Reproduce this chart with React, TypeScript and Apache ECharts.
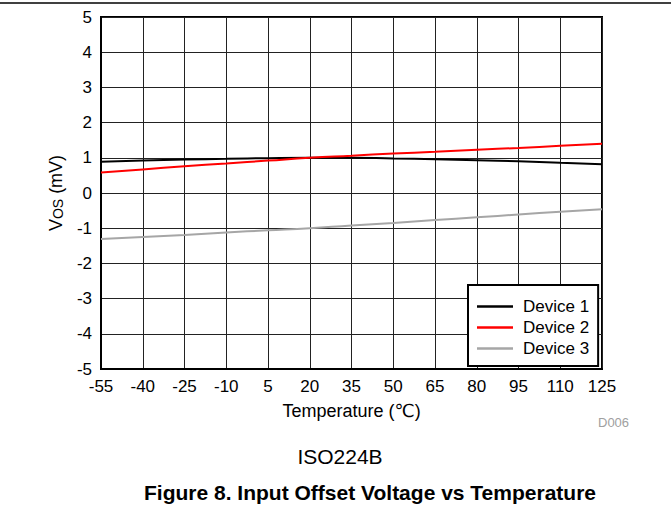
import React, { useEffect, useRef } from "react";
import * as echarts from "echarts";

const temps = [-55, -40, -25, -10, 5, 20, 35, 50, 65, 80, 95, 110, 125];
const device1 = [0.89, 0.92, 0.95, 0.97, 0.99, 1.0, 1.0, 0.98, 0.96, 0.93, 0.9, 0.86, 0.82];
const device2 = [0.58, 0.67, 0.76, 0.84, 0.92, 1.0, 1.06, 1.12, 1.17, 1.23, 1.28, 1.34, 1.4];
const device3 = [-1.31, -1.25, -1.19, -1.12, -1.06, -1.0, -0.92, -0.85, -0.77, -0.69, -0.61, -0.53, -0.46];
const seriesNames = ["Device 1", "Device 2", "Device 3"];
const seriesColors = ["#000000", "#ff0000", "#a6a6a6"];

const FONT = "Arial, 'Liberation Sans', 'DejaVu Sans', sans-serif";

export default function App() {
  const ref = useRef<HTMLDivElement>(null);
  useEffect(() => {
    if (!ref.current) return;
    const chart = echarts.init(ref.current, undefined, { renderer: "svg" });
    const datas = [device1, device2, device3];
    chart.setOption({
      animation: false,
      textStyle: { fontFamily: FONT },
      grid: {
        left: 101,
        right: 69,
        top: 17,
        bottom: 139,
        show: true,
        borderColor: "#000",
        borderWidth: 2,
        containLabel: false,
      },
      xAxis: {
        type: "value",
        min: -55,
        max: 125,
        interval: 15,
        name: "Temperature (℃)",
        nameLocation: "middle",
        nameGap: 33,
        nameTextStyle: { fontSize: 18, color: "#000", fontFamily: FONT },
        axisLine: { show: true, onZero: false, lineStyle: { color: "#000", width: 2 } },
        axisTick: { show: false },
        axisLabel: { fontSize: 17, color: "#000", margin: 9, fontFamily: FONT },
        splitLine: { show: true, lineStyle: { color: "#222", width: 1 } },
      },
      yAxis: {
        type: "value",
        min: -5,
        max: 5,
        interval: 1,
        name: "{a|V}{b|OS}{a| (mV)}",
        nameLocation: "middle",
        nameGap: 36,
        nameRotate: 90,
        nameTextStyle: {
          color: "#000",
          rich: {
            a: { fontSize: 18, fontFamily: FONT, color: "#000" },
            b: { fontSize: 14, fontFamily: FONT, color: "#000", verticalAlign: "bottom", lineHeight: 14 },
          },
        },
        axisLine: { show: true, onZero: false, lineStyle: { color: "#000", width: 2 } },
        axisTick: { show: false },
        axisLabel: { fontSize: 17, color: "#000", margin: 9, fontFamily: FONT },
        splitLine: { show: true, lineStyle: { color: "#222", width: 1 } },
      },
      legend: {
        orient: "vertical",
        left: 468,
        top: 285,
        width: 115,
        padding: [13, 9, 9, 9],
        itemGap: 4,
        itemWidth: 36,
        itemHeight: 18,
        icon: "path://M0,0 L36,0 L36,2.5 L0,2.5 Z",
        backgroundColor: "#fff",
        borderColor: "#000",
        borderWidth: 2,
        borderRadius: 0,
        textStyle: { fontSize: 17, color: "#000", fontFamily: FONT, padding: [0, 0, 0, 5] },
        data: seriesNames,
      },
      series: seriesNames.map((name, i) => ({
        name,
        type: "line",
        symbol: "none",
        smooth: true,
        lineStyle: { color: seriesColors[i], width: 2 },
        itemStyle: { color: seriesColors[i] },
        data: temps.map((t, j) => [t, datas[i][j]]),
      })),
      graphic: [
        {
          type: "line",
          shape: { x1: 0, y1: 3, x2: 671, y2: 3 },
          style: { stroke: "#000", lineWidth: 1.5 },
        },
        {
          type: "text",
          x: 598,
          y: 422,
          style: { text: "D006", fontSize: 13, fill: "#a0a0a0", fontFamily: FONT, textVerticalAlign: "middle" },
        },
        {
          type: "text",
          x: 340,
          y: 456,
          style: { text: "ISO224B", fontSize: 21, fill: "#000", fontFamily: FONT, textAlign: "center", textVerticalAlign: "middle" },
        },
        {
          type: "text",
          x: 370,
          y: 492,
          style: {
            text: "Figure 8. Input Offset Voltage vs Temperature",
            fontSize: 21,
            fontWeight: "bold",
            fill: "#000",
            fontFamily: FONT,
            textAlign: "center",
            textVerticalAlign: "middle",
          },
        },
      ],
    });
    return () => chart.dispose();
  }, []);
  return <div ref={ref} style={{ position: "absolute", left: 0, top: 0, width: 671, height: 508 }} />;
}
